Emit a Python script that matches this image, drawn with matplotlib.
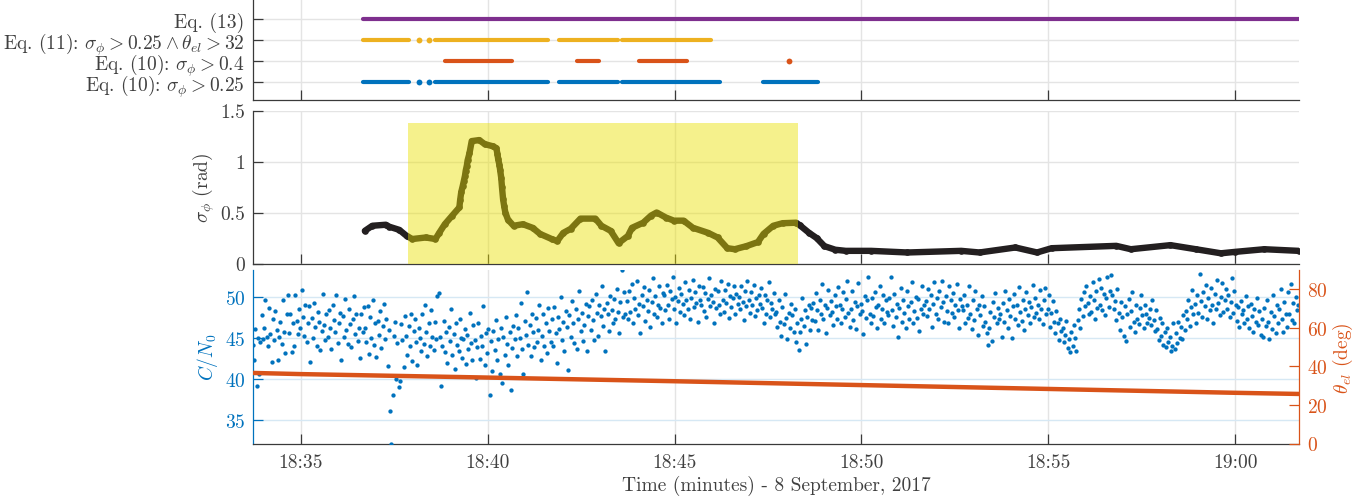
import matplotlib
matplotlib.use('Agg')
import matplotlib.pyplot as plt
import numpy as np

plt.rcParams['font.family'] = 'serif'
plt.rcParams['font.serif'] = ['cmr10']
plt.rcParams['mathtext.fontset'] = 'cm'
plt.rcParams['axes.unicode_minus'] = False
plt.rcParams['axes.formatter.use_mathtext'] = True

# ---------------- data (time in minutes after 18:00) ----------------
x_ticks = [35, 40, 45, 50, 55, 60]
x_ticklabels = ['18:35', '18:40', '18:45', '18:50', '18:55', '19:00']
x_limits = [33.717, 61.71]
x_label = 'Time (minutes) - 8 September, 2017'

det_labels = [r'Eq. (10): $\sigma_\phi > 0.25$',
              r'Eq. (10): $\sigma_\phi > 0.4$',
              r'Eq. (11): $\sigma_\phi > 0.25 \wedge \theta_{el} > 32$',
              r'Eq. (13)']
eq10_025_segments = [(36.67, 37.90), (38.155, 38.155), (38.42, 38.42), (38.60, 41.61),
                     (41.90, 43.48), (43.60, 46.21), (47.36, 48.83)]
eq10_04_segments = [(38.85, 40.65), (42.39, 42.97), (44.06, 45.33), (48.07, 48.07)]
eq11_segments = [(36.67, 37.90), (38.155, 38.155), (38.42, 38.42), (38.60, 41.61),
                 (41.90, 43.48), (43.60, 45.98)]
eq13_segments = [(36.67, 61.71)]

sigma_time = [36.71, 36.91, 37.27, 37.37, 37.63, 37.83, 37.98, 38.34, 38.60, 38.70,
              38.85, 39.05, 39.24, 39.26, 39.29, 39.33, 39.36, 39.39, 39.41, 39.44,
              39.46, 39.51, 39.57, 39.77, 39.92, 40.13, 40.23, 40.26, 40.28, 40.31,
              40.33, 40.36, 40.38, 40.41, 40.44, 40.47, 40.54, 40.69, 40.94, 41.20,
              41.40, 41.71, 41.86, 42.02, 42.22, 42.48, 42.88, 43.04, 43.29, 43.50,
              43.75, 43.86, 44.16, 44.37, 44.52, 44.77, 44.98, 45.24, 45.49, 45.90,
              46.15, 46.41, 46.61, 46.92, 47.23, 47.38, 47.64, 47.89, 48.25, 48.35,
              48.60, 48.80, 49.01, 49.30, 49.58, 50.26, 51.23, 52.67, 53.16, 54.12,
              54.70, 55.09, 56.82, 57.21, 58.27, 58.95, 59.62, 60.00, 60.78, 61.70]
sigma_phi = [0.32, 0.37, 0.38, 0.36, 0.33, 0.27, 0.24, 0.255, 0.24, 0.30,
             0.385, 0.47, 0.55, 0.62, 0.70, 0.76, 0.81, 0.86, 0.91, 0.96,
             1.01, 1.08, 1.20, 1.21, 1.17, 1.15, 1.13, 1.07, 1.02, 0.97,
             0.92, 0.84, 0.75, 0.63, 0.56, 0.50, 0.43, 0.37, 0.385, 0.35,
             0.29, 0.24, 0.22, 0.30, 0.34, 0.44, 0.44, 0.37, 0.32, 0.20,
             0.27, 0.35, 0.40, 0.47, 0.50, 0.45, 0.42, 0.42, 0.35, 0.30,
             0.255, 0.15, 0.14, 0.17, 0.21, 0.29, 0.37, 0.395, 0.40, 0.375,
             0.30, 0.25, 0.17, 0.135, 0.124, 0.124, 0.108, 0.124, 0.108, 0.157,
             0.108, 0.15, 0.173, 0.14, 0.18, 0.14, 0.10, 0.114, 0.14, 0.124]
shade_time = [37.87, 48.30]
shade_top = 1.38
sigma_ticks = [0, 0.5, 1, 1.5]
sigma_ticklabels = ['0', '0.5', '1', '1.5']

cn0_start = 33.717        # 18:33:43, one sample every 2 s
cn0 = [
 44.2, 42.3, 46.1, 39.2, 45.0, 40.6, 44.5, 47.8, 44.9, 46.3, 49.6, 45.2, 44.0, 48.7, 45.5, 42.1, 47.4, 44.8, 48.3, 46.0, 42.4, 45.1, 47.0, 44.3, 49.7, 45.8, 43.2, 47.9, 50.3, 45.6,
 48.0, 43.3, 46.9, 44.0, 50.2, 47.1, 45.5, 48.6, 46.2, 50.9, 47.6, 45.3, 49.1, 44.6, 46.8, 48.9, 42.1, 47.5, 45.0, 49.3, 46.4, 44.1, 48.2, 47.0, 43.6, 45.9, 50.4, 46.6, 44.8, 47.9,
 45.1, 48.4, 46.3, 43.7, 49.0, 47.2, 45.7, 50.3, 44.4, 46.9, 48.1, 42.4, 47.7, 45.2, 49.8, 46.0, 44.3, 48.5, 46.7, 43.9, 47.3, 50.1, 45.5, 48.0, 44.7, 46.2, 42.6, 47.9, 45.8, 48.8,
 46.2, 44.5, 48.9, 43.1, 47.6, 45.0, 49.7, 44.2, 46.8, 42.7, 47.1, 45.4, 48.3, 43.8, 46.5, 49.2, 44.9, 47.4, 41.6, 46.0, 36.2, 32.2, 38.1, 45.3, 47.0, 40.1, 44.4, 39.1, 39.8, 46.7,
 44.8, 41.5, 47.7, 45.3, 43.0, 46.5, 44.1, 48.0, 42.2, 45.9, 47.3, 44.6, 41.8, 46.2, 45.0, 43.4, 47.9, 44.3, 49.0, 45.7, 42.9, 46.8, 44.0, 48.4, 45.2, 43.6, 47.0, 44.9, 50.1, 50.5,
 45.2, 39.2, 44.0, 47.1, 43.3, 45.8, 42.0, 46.4, 44.7, 48.6, 43.0, 45.5, 41.3, 46.9, 44.2, 43.5, 47.4, 45.0, 42.6, 44.9, 46.1, 41.9, 45.4, 43.7, 48.1, 44.4, 42.3, 46.6, 44.8, 40.2,
 43.9, 46.8, 42.5, 45.3, 44.0, 48.9, 41.8, 45.6, 43.2, 46.1, 38.1, 44.7, 41.0, 45.9, 43.6, 47.2, 42.4, 44.9, 40.6, 46.3, 39.5, 45.1, 43.0, 47.6, 44.3, 41.7, 45.8, 38.7, 43.8, 46.5,
 44.9, 47.8, 42.9, 46.2, 45.0, 49.3, 43.7, 40.7, 47.1, 45.4, 50.6, 44.2, 46.6, 42.8, 48.0, 45.7, 43.9, 47.5, 44.6, 46.0, 49.0, 42.3, 45.3, 47.9, 44.1, 46.8, 43.2, 48.7, 45.9, 44.5,
 47.3, 44.0, 48.8, 45.6, 42.0, 47.6, 46.1, 50.0, 44.8, 47.0, 43.5, 48.3, 46.4, 41.1, 47.8, 45.2, 49.5, 46.9, 44.4, 48.6, 43.7, 47.4, 50.8, 45.9, 48.1, 44.7, 46.6, 49.2, 43.4, 47.7,
 48.9, 46.0, 49.6, 47.2, 44.8, 50.4, 48.1, 45.3, 49.0, 47.7, 51.3, 46.5, 48.6, 43.5, 49.3, 47.9, 45.9, 50.1, 48.4, 46.8, 49.8, 47.3, 51.0, 48.2, 45.6, 49.4, 53.3, 47.6, 50.6, 48.0,
 49.5, 47.4, 50.8, 48.2, 51.6, 46.9, 49.9, 48.6, 52.0, 47.8, 49.2, 45.6, 50.3, 48.9, 51.2, 47.1, 49.7, 48.3, 50.9, 46.4, 49.4, 52.3, 48.0, 50.1, 47.6, 49.0, 51.4, 48.7, 46.8, 50.5,
 50.2, 48.4, 51.5, 49.1, 47.3, 50.7, 49.8, 52.4, 48.6, 50.0, 46.9, 49.5, 51.1, 48.2, 50.4, 49.2, 47.8, 51.8, 49.7, 48.5, 50.9, 47.4, 49.9, 52.1, 48.8, 50.6, 49.3, 47.0, 51.3, 49.6,
 49.0, 51.2, 48.3, 50.5, 47.6, 49.8, 52.3, 48.9, 50.2, 49.4, 46.9, 51.0, 48.7, 50.7, 49.1, 47.9, 52.0, 49.6, 48.2, 50.9, 49.3, 51.6, 47.5, 50.1, 48.8, 49.9, 51.4, 48.0, 50.4, 49.2,
 50.0, 48.6, 51.3, 49.4, 47.2, 50.8, 48.9, 52.0, 49.7, 48.1, 50.6, 49.0, 51.5, 47.7, 49.9, 48.4, 50.3, 49.2, 51.1, 48.7, 46.9, 50.2, 48.0, 49.6, 51.8, 47.6, 49.3, 48.5, 50.5, 47.9,
 48.2, 46.4, 49.6, 47.0, 45.3, 48.8, 46.7, 50.4, 47.5, 44.9, 48.1, 46.2, 49.2, 47.8, 45.7, 48.5, 44.6, 46.9, 43.6, 45.8, 47.3, 49.9, 46.5, 48.4, 44.3, 47.6, 49.0, 46.0, 48.7, 47.2,
 49.3, 47.1, 50.5, 48.4, 46.0, 49.7, 48.0, 51.6, 47.4, 49.0, 45.6, 48.7, 50.9, 47.8, 49.5, 48.2, 46.6, 50.2, 48.9, 47.3, 51.2, 49.1, 46.9, 48.5, 50.6, 47.6, 49.8, 52.0, 48.1, 46.4,
 48.6, 50.8, 47.2, 49.4, 46.1, 48.9, 51.7, 47.9, 49.2, 48.3, 45.5, 50.1, 47.5, 49.6, 52.4, 48.0, 46.8, 49.9, 47.7, 50.6, 48.8, 46.3, 49.1, 51.3, 47.4, 48.5, 50.3, 46.9, 49.7, 48.2,
 47.8, 49.9, 52.5, 48.4, 46.5, 50.4, 47.6, 49.2, 45.1, 48.7, 51.1, 47.0, 49.6, 48.1, 46.2, 50.7, 48.9, 47.3, 49.4, 51.9, 46.8, 48.3, 50.0, 47.5, 49.8, 45.9, 48.6, 51.4, 47.9, 49.1,
 49.5, 47.7, 51.0, 48.6, 50.3, 46.4, 49.2, 51.8, 48.0, 49.9, 47.3, 50.7, 48.8, 52.0, 49.4, 47.0, 50.1, 48.3, 46.9, 51.3, 49.7, 48.1, 50.5, 47.6, 49.0, 51.6, 48.4, 46.2, 49.8, 48.9,
 48.4, 50.2, 46.8, 49.1, 47.5, 51.3, 48.0, 46.1, 49.6, 47.2, 50.7, 48.6, 45.4, 49.0, 47.8, 50.1, 46.5, 48.9, 47.0, 45.6, 44.2, 46.3, 48.2, 44.7, 49.4, 47.6, 50.5, 46.9, 48.7, 47.3,
 47.9, 45.2, 49.3, 47.0, 50.8, 48.4, 46.3, 49.8, 47.7, 45.0, 48.9, 50.4, 47.4, 49.1, 46.6, 51.2, 48.2, 47.1, 49.6, 46.0, 48.5, 50.6, 47.8, 49.4, 46.9, 48.8, 51.5, 47.6, 49.9, 48.1,
 49.0, 47.3, 50.9, 48.5, 46.7, 49.7, 51.1, 47.9, 48.6, 50.2, 46.4, 48.1, 49.5, 47.0, 45.6, 48.3, 46.9, 44.8, 47.4, 45.9, 46.2, 44.6, 45.4, 47.1, 43.8, 44.9, 43.3, 45.7, 44.1, 46.6,
 45.0, 43.4, 47.2, 48.5, 46.3, 49.8, 47.7, 50.6, 48.9, 51.4, 49.3, 47.9, 50.1, 48.2, 51.9, 49.6, 47.4, 50.8, 48.7, 52.2, 49.0, 51.1, 48.4, 50.4, 47.8, 49.9, 52.5, 48.8, 50.7, 52.7,
 50.3, 48.6, 49.5, 47.2, 51.0, 48.1, 46.0, 49.4, 47.6, 45.3, 48.9, 44.7, 47.9, 49.8, 46.4, 48.3, 50.6, 47.0, 45.8, 49.1, 47.4, 46.7, 48.7, 50.2, 47.8, 46.2, 49.0, 48.0, 46.9, 47.5,
 48.5, 46.6, 49.7, 47.2, 45.9, 48.4, 46.1, 44.8, 47.5, 45.3, 46.8, 44.2, 45.7, 43.9, 46.3, 44.5, 45.1, 43.5, 44.0, 46.9, 43.7, 45.6, 44.4, 47.0, 45.0, 46.4, 44.9, 47.8, 46.0, 48.3,
 47.4, 49.6, 46.5, 48.8, 50.9, 47.9, 49.2, 46.8, 50.3, 48.1, 52.8, 49.5, 47.6, 50.6, 48.9, 51.5, 47.3, 49.9, 48.4, 51.1, 49.0, 46.9, 50.4, 48.6, 52.1, 49.3, 47.8, 50.0, 51.7, 48.2,
 49.7, 51.0, 48.5, 50.2, 47.6, 49.4, 52.3, 48.1, 50.7, 49.0, 47.1, 48.8, 46.4, 49.5, 47.9, 48.4, 46.8, 50.1, 47.3, 48.9, 46.2, 49.2, 47.7, 45.8, 48.6, 47.0, 49.9, 46.6, 48.3, 45.4,
 47.4, 45.1, 48.7, 46.5, 49.6, 47.0, 44.9, 48.2, 46.1, 50.3, 47.7, 45.6, 49.0, 46.8, 48.5, 51.0, 47.3, 45.8, 49.4, 47.9, 46.4, 50.6, 48.0, 51.6, 47.2, 49.3, 46.9, 50.0, 48.4, 49.1,
]
cn0_limits = [32.2, 53.3]
cn0_ticks = [35, 40, 45, 50]

elev_time = [33.72, 35.0, 40.0, 45.0, 50.0, 55.0, 60.0, 61.71]
elev_deg = [36.6, 36.0, 34.2, 32.3, 30.3, 28.3, 26.3, 25.7]
elev_limits = [0, 90]
elev_ticks = [0, 20, 40, 60, 80]

# ---------------- styling ----------------
BLUE = '#0072BD'
ORANGE = '#D95319'
YELLOW = '#EDB120'
PURPLE = '#7E2F8E'
DARK = '#3a3a3a'
TXT = '#404040'
GRID = '#e4e4e4'
FS = 14
TL = 7.5

fig = plt.figure(figsize=(13.65, 5.02), dpi=100)
L = 253 / 1365
W = (1299 - 253) / 1365
ax1 = fig.add_axes([L, 1 - 101 / 502, W, 101 / 502])
ax2 = fig.add_axes([L, 1 - 264.5 / 502, W, (264.5 - 111.5) / 502])
ax3 = fig.add_axes([L, 1 - 444.5 / 502, W, (444.5 - 271) / 502])


def base_style(ax):
    ax.set_xlim(x_limits)
    ax.set_xticks(x_ticks)
    ax.spines['top'].set_visible(False)
    ax.spines['right'].set_visible(False)
    for s in ('left', 'bottom'):
        ax.spines[s].set_color(DARK)
        ax.spines[s].set_linewidth(0.9)
    ax.tick_params(direction='in', length=TL, width=0.9, color=DARK,
                   labelcolor=TXT, labelsize=FS)
    ax.set_axisbelow(True)


# ---- top panel: detections ----
base_style(ax1)
rows = [(eq10_025_segments, BLUE), (eq10_04_segments, ORANGE),
        (eq11_segments, YELLOW), (eq13_segments, PURPLE)]
for i, (segs, col) in enumerate(rows):
    yv = i + 1
    for s, e in segs:
        if e > s:
            ax1.plot([s, e], [yv, yv], color=col, lw=3.0, solid_capstyle='round')
        else:
            ax1.plot([s], [yv], 'o', color=col, ms=4.2, mew=0)
ax1.set_ylim(0.14, 4.95)
ax1.set_yticks([1, 2, 3, 4])
ax1.set_yticklabels(det_labels)
ax1.tick_params(axis='x', labelbottom=False)
ax1.tick_params(axis='y', pad=6)
ax1.grid(True, color=GRID, lw=1.0)

# ---- middle panel: sigma_phi ----
base_style(ax2)
ax2.plot(sigma_time, sigma_phi, '-', color='#231f20', lw=4.6,
         solid_capstyle='round', solid_joinstyle='round', zorder=3)
ax2.plot(sigma_time, sigma_phi, 'o', color='#231f20', ms=4.8, mew=0, zorder=3)
ax2.fill_between(shade_time, 0, shade_top, color='#EAE000', alpha=0.45,
                 lw=0, zorder=4)
ax2.set_ylim(0, 1.5)
ax2.set_yticks(sigma_ticks)
ax2.set_yticklabels(sigma_ticklabels)
ax2.tick_params(axis='x', labelbottom=False)
ax2.tick_params(axis='y', pad=5.5)
ax2.grid(True, color=GRID, lw=1.0)
ax2.set_ylabel(r'$\sigma_\phi$ (rad)', fontsize=FS, color=TXT)
ax2.yaxis.set_label_coords(-0.0345, 0.5)

# ---- bottom panel: C/N0 and elevation ----
base_style(ax3)
cn0_time = cn0_start + np.arange(len(cn0)) / 30.0
ax3.plot(cn0_time, cn0, 'o', color=BLUE, ms=3.1, mew=0, zorder=3)
ax3.set_ylim(cn0_limits)
ax3.set_yticks(cn0_ticks)
ax3.spines['left'].set_color(BLUE)
ax3.tick_params(axis='y', colors=BLUE, pad=5.5)
ax3.set_xticklabels(x_ticklabels)
ax3.tick_params(axis='x', pad=7)
ax3.xaxis.grid(True, color=GRID, lw=1.0)
ax3.yaxis.grid(True, color='#d6e8f4', lw=1.0)
ax3.set_ylabel(r'$C/N_0$', fontsize=FS, color=BLUE)
ax3.yaxis.set_label_coords(-0.0315, 0.5)
ax3.set_xlabel(x_label, fontsize=FS, color=TXT, labelpad=3)

ax3r = ax3.twinx()
ax3r.set_xlim(x_limits)
ax3r.plot(elev_time, elev_deg, '-', color=ORANGE, lw=3.2, zorder=4)
ax3r.set_ylim(elev_limits)
ax3r.set_yticks(elev_ticks)
for s in ('top', 'left', 'bottom'):
    ax3r.spines[s].set_visible(False)
ax3r.spines['right'].set_color(ORANGE)
ax3r.spines['right'].set_linewidth(0.9)
ax3r.tick_params(axis='y', direction='in', length=TL, width=0.9, colors=ORANGE,
                 labelsize=FS, pad=5.5)
ax3r.set_ylabel(r'$\theta_{el}$ (deg)', fontsize=FS, color=ORANGE, rotation=90)
ax3r.yaxis.set_label_coords(1.0306, 0.5)

fig.savefig('out.png', dpi=100)
